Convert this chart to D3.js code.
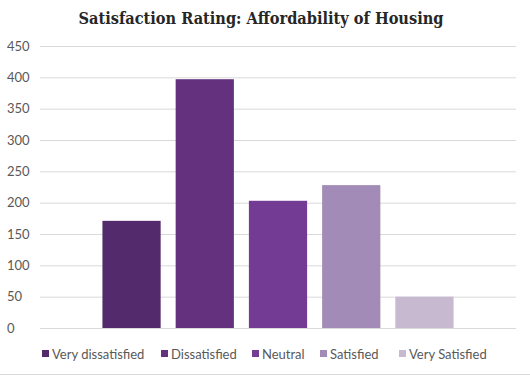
<!DOCTYPE html>
<html>
<head>
<meta charset="utf-8">
<script src="https://cdn.jsdelivr.net/npm/d3@7"></script>
<style>
  body { margin: 0; background: #fff; }
  .tick text, .legend text { font-family: "Lato", sans-serif; font-size: 13px; fill: #595959; }
  .title { font-family: "DejaVu Serif Condensed", "DejaVu Serif", serif; font-stretch: condensed; font-weight: bold; font-size: 16.2px; fill: #262626; }
</style>
</head>
<body>
<svg id="chart"></svg>
<script>
const categories = ["Very dissatisfied", "Dissatisfied", "Neutral", "Satisfied", "Very Satisfied"];
const values = [171, 397, 203, 228, 50];
const colors = ["#532a6c", "#64317f", "#743b95", "#a28bb6", "#c6b9d0"];
const yTicks = [0, 50, 100, 150, 200, 250, 300, 350, 400, 450];

const width = 530, height = 376;
const margin = { top: 46, right: 14, bottom: 48, left: 40 };
const innerW = width - margin.left - margin.right;
const innerH = height - margin.top - margin.bottom;

const svg = d3.select("#chart").attr("width", width).attr("height", height);

svg.append("text")
  .attr("class", "title")
  .attr("x", width / 2 - 4)
  .attr("y", 24)
  .attr("text-anchor", "middle")
  .text("Satisfaction Rating: Affordability of Housing");

const chart = svg.append("g")
  .attr("transform", `translate(${margin.left},${margin.top})`);

// one category group, series side by side inside it
const x0 = d3.scaleBand().domain([""]).range([0, innerW]).paddingOuter(0.15).paddingInner(0);
const x1 = d3.scaleBand().domain(categories).range([0, x0.bandwidth()])
  .paddingInner(0.205).paddingOuter(0.1025);
const y = d3.scaleLinear().domain([0, 450]).range([innerH, 0]);

const yAxis = d3.axisLeft(y).tickValues(yTicks).tickSize(-innerW).tickPadding(13);
chart.append("g")
  .call(yAxis)
  .call(g => g.select(".domain").remove())
  .call(g => g.selectAll(".tick line").attr("stroke", "#d9d9d9").attr("stroke-width", 1))
  .call(g => g.selectAll(".tick text").attr("text-anchor", "start").attr("x", -33));

chart.selectAll(".bar")
  .data(values)
  .join("rect")
  .attr("class", "bar")
  .attr("x", (d, i) => x0("") + x1(categories[i]))
  .attr("y", d => y(d))
  .attr("width", x1.bandwidth())
  .attr("height", d => innerH - y(d))
  .attr("fill", (d, i) => colors[i]);

// legend
const legendX = [42, 161, 252, 320, 399];
const legend = svg.append("g").attr("class", "legend")
  .attr("transform", "translate(0,354)");
const items = legend.selectAll("g")
  .data(categories)
  .join("g")
  .attr("transform", (d, i) => `translate(${legendX[i]},0)`);
items.append("rect")
  .attr("x", 0).attr("y", -4).attr("width", 7).attr("height", 7)
  .attr("fill", (d, i) => colors[i]);
items.append("text")
  .attr("x", 10).attr("y", 0).attr("dy", "0.35em")
  .text(d => d);

// sheet border seen under the chart
svg.append("line")
  .attr("x1", 0).attr("x2", width)
  .attr("y1", 374.5).attr("y2", 374.5)
  .attr("stroke", "#d9d9d9");
</script>
</body>
</html>
